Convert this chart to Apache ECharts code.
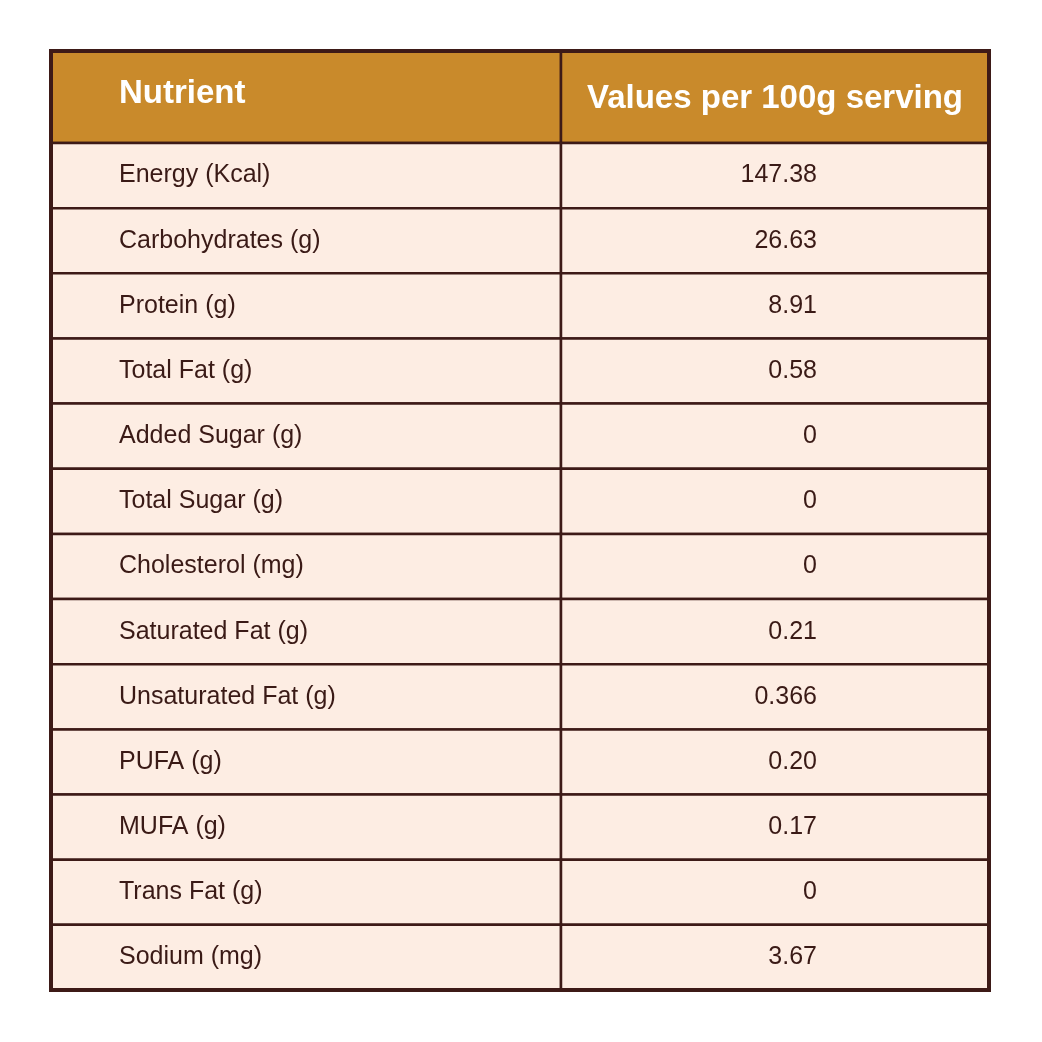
<!DOCTYPE html>
<html>
<head>
<meta charset="utf-8">
<script src="https://cdn.jsdelivr.net/npm/echarts@6/dist/echarts.min.js"></script>
<style>
  html, body { margin: 0; padding: 0; background: #fff; }
  #chart { width: 1042px; height: 1042px; }
</style>
</head>
<body>
<div id="chart"></div>
<script>
const headers = ["Nutrient", "Values per 100g serving"];
const nutrients = [
  "Energy (Kcal)", "Carbohydrates (g)", "Protein (g)", "Total Fat (g)",
  "Added Sugar (g)", "Total Sugar (g)", "Cholesterol (mg)", "Saturated Fat (g)",
  "Unsaturated Fat (g)", "PUFA (g)", "MUFA (g)", "Trans Fat (g)", "Sodium (mg)",
];
const values = [
  "147.38", "26.63", "8.91", "0.58", "0", "0", "0", "0.21",
  "0.366", "0.20", "0.17", "0", "3.67",
];

const BORDER = "#3d1a17";
const HEAD_BG = "#c98a2b";
const BODY_BG = "#fdede3";
const TEXT = "#3a1a16";
const FONT = "'Liberation Sans', Arial, sans-serif";
const SPLIT = 510 / 938; // column divider as fraction of table width

function cellGroup(api, rowIdx, isHeader, texts) {
  const catY = api.value(0);
  const start = api.coord([0, catY]);
  const end = api.coord([1, catY]);
  const band = api.size([0, 1])[1];
  const x0 = start[0], x1 = end[0];
  const y = start[1] - band / 2;
  const xs = x0 + (x1 - x0) * SPLIT;
  const bg = isHeader ? HEAD_BG : BODY_BG;
  const style = { fill: bg, stroke: BORDER, lineWidth: 2.5 };
  const textStyle = isHeader
    ? { fill: "#fff", font: "bold 33px " + FONT }
    : { fill: TEXT, font: "25px " + FONT };
  return {
    type: "group",
    children: [
      { type: "rect", shape: { x: x0, y: y, width: xs - x0, height: band }, style: style },
      { type: "rect", shape: { x: xs, y: y, width: x1 - xs, height: band }, style: style },
      {
        type: "text",
        style: { ...textStyle, text: texts[0], x: x0 + 68, y: y + band / 2 + (isHeader ? -3 : 0), verticalAlign: "middle", align: "left" },
      },
      {
        type: "text",
        style: isHeader
          ? { ...textStyle, text: texts[1], x: (xs + x1) / 2, y: y + band / 2 + 2, verticalAlign: "middle", align: "center" }
          : { ...textStyle, text: texts[1], x: xs + 256, y: y + band / 2, verticalAlign: "middle", align: "right" },
      },
    ],
  };
}

const myChart = echarts.init(document.getElementById("chart"));
const hiddenX = { type: "value", min: 0, max: 1, show: false };
const option = {
  animation: false,
  grid: [
    { left: 51, right: 53, top: 51, height: 92 },
    { left: 51, right: 53, top: 143, height: 847 },
  ],
  xAxis: [
    { ...hiddenX, gridIndex: 0 },
    { ...hiddenX, gridIndex: 1 },
  ],
  yAxis: [
    { type: "category", data: ["header"], gridIndex: 0, show: false, inverse: true },
    { type: "category", data: nutrients, gridIndex: 1, show: false, inverse: true },
  ],
  series: [
    {
      type: "custom",
      xAxisIndex: 0, yAxisIndex: 0,
      data: [[0]],
      renderItem: (params, api) => cellGroup(api, params.dataIndex, true, headers),
    },
    {
      type: "custom",
      xAxisIndex: 1, yAxisIndex: 1,
      data: nutrients.map((n, i) => [i]),
      renderItem: (params, api) =>
        cellGroup(api, params.dataIndex, false, [nutrients[params.dataIndex], values[params.dataIndex]]),
    },
  ],
  graphic: [
    {
      type: "rect", z: 100, silent: true,
      shape: { x: 51, y: 51, width: 938, height: 939 },
      style: { fill: "none", stroke: BORDER, lineWidth: 4 },
    },
  ],
};
myChart.setOption(option);
</script>
</body>
</html>
